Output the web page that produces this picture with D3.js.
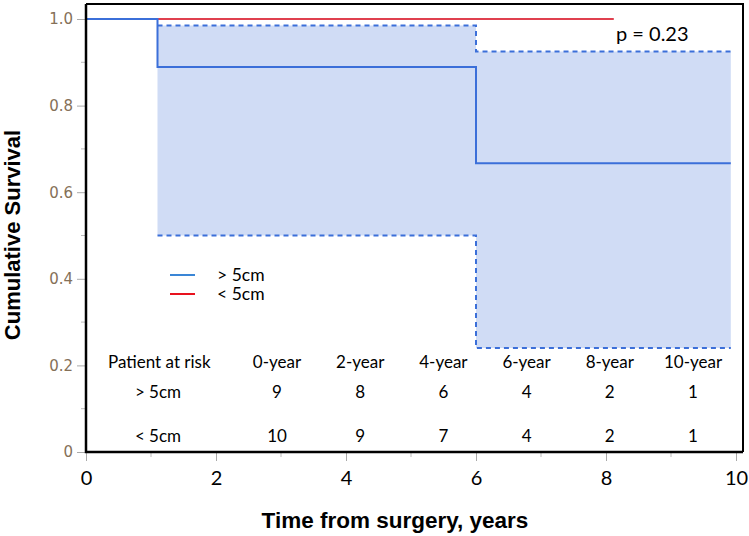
<!DOCTYPE html>
<html>
<head>
<meta charset="utf-8">
<script src="https://cdn.jsdelivr.net/npm/d3@7"></script>
<style>
  body { margin: 0; background: #fff; }
  svg { display: block; }
</style>
</head>
<body>
<div id="chart"></div>
<script>
// Kaplan-Meier steps, >5cm group (time in years)
const bigTimes = [0, 1.1, 6, 9.92];
const bigSurv = [1.0, 0.889, 0.667, 0.667];
const bigUpper = [1.0, 0.985, 0.925, 0.925];
const bigLower = [1.0, 0.5, 0.24, 0.24];
// <5cm group, no events
const smallTimes = [0, 8.12];
const smallSurv = [1.0, 1.0];

const riskYears = ['0-year', '2-year', '4-year', '6-year', '8-year', '10-year'];
const riskBig = [9, 8, 6, 4, 2, 1];
const riskSmall = [10, 9, 7, 4, 2, 1];
const groups = ['> 5cm', '< 5cm'];

const W = 749, H = 536;

const svg = d3.select('#chart').append('svg')
  .attr('width', W).attr('height', H);

const x = d3.scaleLinear().domain([0, 10]).range([86, 736]);
const y = d3.scaleLinear().domain([0, 1]).range([452, 19]);

const textFont = 'Lato, "Open Sans", sans-serif';
const boldFont = 'Arial, "Liberation Sans", sans-serif';
const blue = '#3b6fd9';
const red = '#e0404f';

// confidence band (step area)
const band = bigTimes.slice(1).map((t, i) => ({ t: t, lo: bigLower[i + 1], hi: bigUpper[i + 1] }));
const bandArea = d3.area()
  .curve(d3.curveStepAfter)
  .x(d => x(d.t))
  .y0(d => y(d.lo))
  .y1(d => y(d.hi));
svg.append('path')
  .datum(band)
  .attr('d', bandArea)
  .attr('fill', '#d0dcf5');

const stepLine = d3.line().curve(d3.curveStepAfter).x(d => x(d[0])).y(d => y(d[1]));

// CI bounds, dashed
[bigUpper, bigLower].forEach(arr => {
  const pts = bigTimes.slice(1).map((t, i) => [t, arr[i + 1]]);
  svg.append('path')
    .attr('d', stepLine(pts))
    .attr('fill', 'none')
    .attr('stroke', blue)
    .attr('stroke-width', 2)
    .attr('stroke-dasharray', '5,4');
});

// red survival curve
svg.append('path')
  .attr('d', stepLine(smallTimes.map((t, i) => [t, smallSurv[i]])))
  .attr('fill', 'none')
  .attr('stroke', red)
  .attr('stroke-width', 2);

// blue survival curve
svg.append('path')
  .attr('d', stepLine(bigTimes.map((t, i) => [t, bigSurv[i]])))
  .attr('fill', 'none')
  .attr('stroke', blue)
  .attr('stroke-width', 2);

// frame: top and right border
svg.append('path')
  .attr('d', `M${x(0)},4H743V${y(0)}`)
  .attr('fill', 'none')
  .attr('stroke', '#000')
  .attr('stroke-width', 2);

// y axis
const yAxis = svg.append('g')
  .attr('transform', `translate(${x(0)},0)`)
  .call(d3.axisLeft(y).tickValues([0, 0.2, 0.4, 0.6, 0.8, 1.0])
    .tickFormat(d => d === 0 ? '0' : d3.format('.1f')(d))
    .tickSize(9).tickPadding(4).tickSizeOuter(0));
yAxis.select('.domain').remove();
yAxis.selectAll('line').attr('stroke', '#aaa');
yAxis.selectAll('text')
  .attr('font-family', 'Tahoma, "DejaVu Sans", sans-serif')
  .attr('font-size', 15)
  .attr('fill', '#857058');
svg.append('g')
  .selectAll('line')
  .data([0.1, 0.3, 0.5, 0.7, 0.9])
  .join('line')
  .attr('x1', x(0) - 5).attr('x2', x(0))
  .attr('y1', d => y(d)).attr('y2', d => y(d))
  .attr('stroke', '#bbb');

// x axis
const xAxis = svg.append('g')
  .attr('transform', `translate(0,${y(0) + 1})`)
  .call(d3.axisBottom(x).tickValues([0, 2, 4, 6, 8, 10])
    .tickSize(8).tickPadding(10).tickSizeOuter(0));
xAxis.select('.domain').remove();
xAxis.selectAll('line').attr('stroke', '#aaa');
xAxis.selectAll('text')
  .attr('font-family', textFont)
  .attr('font-size', 20)
  .attr('fill', '#000');
svg.append('g')
  .selectAll('line')
  .data([1, 3, 5, 7, 9])
  .join('line')
  .attr('x1', d => x(d)).attr('x2', d => x(d))
  .attr('y1', y(0) + 1).attr('y2', y(0) + 5)
  .attr('stroke', '#bbb');

// black axis lines
svg.append('path')
  .attr('d', `M${x(0)},4V${y(0)}H743`)
  .attr('fill', 'none')
  .attr('stroke', '#000')
  .attr('stroke-width', 2.5);

// axis titles
svg.append('text')
  .attr('transform', `translate(20,235) rotate(-90)`)
  .attr('text-anchor', 'middle')
  .attr('font-family', boldFont)
  .attr('font-weight', 'bold')
  .attr('font-size', 22)
  .text('Cumulative Survival');
svg.append('text')
  .attr('x', 395).attr('y', 528)
  .attr('text-anchor', 'middle')
  .attr('font-family', boldFont)
  .attr('font-weight', 'bold')
  .attr('font-size', 22.5)
  .text('Time from surgery, years');

// p-value
svg.append('text')
  .attr('x', 616).attr('y', 41)
  .attr('font-family', textFont)
  .attr('font-size', 20)
  .text('p = 0.23');

// legend
const legColors = ['#3a86d6', '#e8121e'];
groups.forEach((g, i) => {
  const ly = 275 + i * 19;
  svg.append('line')
    .attr('x1', 170).attr('x2', 195)
    .attr('y1', ly).attr('y2', ly)
    .attr('stroke', legColors[i]).attr('stroke-width', 2);
  svg.append('text')
    .attr('x', 217).attr('y', ly + 6)
    .attr('font-family', textFont)
    .attr('font-size', 17.5)
    .text(g);
});

// patients-at-risk table
const colX = d3.scalePoint().domain(riskYears).range([277, 693]);
const tableFont = 17;
svg.append('text')
  .attr('x', 108).attr('y', 368)
  .attr('font-family', textFont).attr('font-size', tableFont)
  .text('Patient at risk');
svg.append('g').selectAll('text')
  .data(riskYears).join('text')
  .attr('x', d => colX(d)).attr('y', 368)
  .attr('text-anchor', 'middle')
  .attr('font-family', textFont).attr('font-size', tableFont)
  .text(d => d);
[riskBig, riskSmall].forEach((row, r) => {
  const ry = r === 0 ? 398 : 442;
  svg.append('text')
    .attr('x', 158).attr('y', ry)
    .attr('text-anchor', 'middle')
    .attr('font-family', textFont).attr('font-size', tableFont)
    .text(groups[r]);
  svg.append('g').selectAll('text')
    .data(row).join('text')
    .attr('x', (d, i) => colX(riskYears[i])).attr('y', ry)
    .attr('text-anchor', 'middle')
    .attr('font-family', textFont).attr('font-size', tableFont)
    .text(d => d);
});
</script>
</body>
</html>
